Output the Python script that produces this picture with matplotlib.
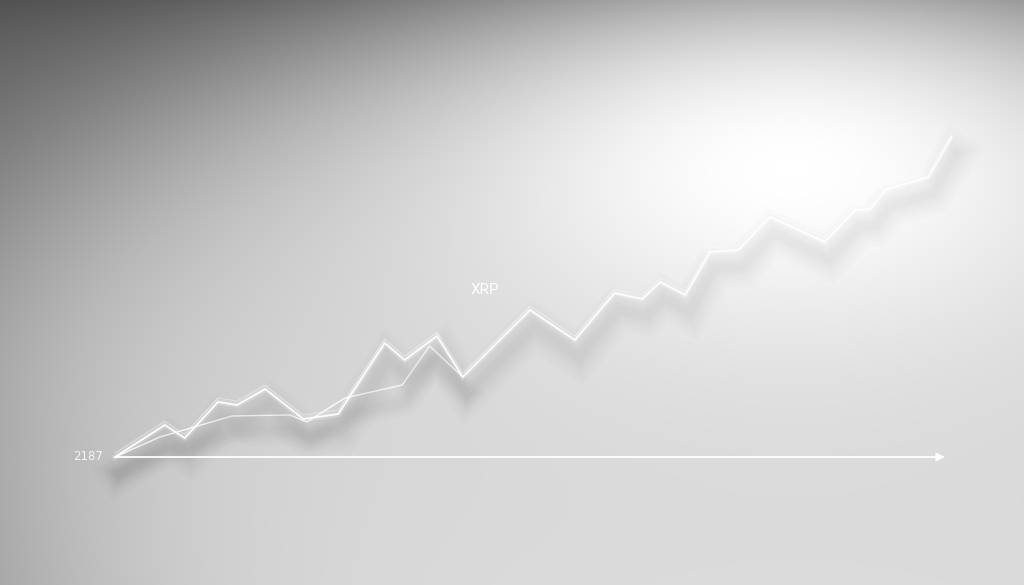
import numpy as np
import matplotlib
matplotlib.use("Agg")
import matplotlib.pyplot as plt
import matplotlib.patheffects as pe

# ---- data ----
main_days = [0, 6.0, 8.4, 12.4, 14.7, 18.1, 22.7, 26.9, 32.5, 34.9, 38.8, 41.9,
             50.0, 55.4, 60.2, 63.5, 65.7, 68.7, 71.7, 75.1, 78.9, 85.5, 89.2,
             91.0, 92.8, 98.0, 100.8]
main_price = [2187, 2283, 2244, 2352, 2343, 2391, 2301, 2316, 2529, 2478, 2550, 2427,
              2628, 2538, 2679, 2661, 2712, 2673, 2802, 2808, 2907, 2832, 2928,
              2931, 2988, 3027, 3147]
alt_days = [0, 5.4, 14.1, 21.1, 23.1, 27.7, 34.6, 37.9, 41.9]
alt_price = [2187, 2247, 2310, 2313, 2292, 2364, 2403, 2520, 2427]
base_value = 2187
base_label = "2187"
title_text = "XRP"
axis_end_day = 100

W, H = 1024, 585
fig = plt.figure(figsize=(W / 100, H / 100), dpi=100)

# ---- background lighting ----
bg = fig.add_axes([0, 0, 1, 1])
Y, X = np.mgrid[0:H, 0:W].astype(float)
by = np.where(Y < 400, 420.0, 800.0)
r = np.sqrt(((X - 800) / 850) ** 2 + ((Y - 400) / by) ** 2)
ell = 1 / (1 + np.exp(-(1 - r) / 0.13))
hot = np.exp(-((X - 790) / 330) ** 2 - ((Y - 130) / 200) ** 2)
B = 0.36 + 0.45 * ell + 0.20 * hot + 0.05 * (Y / H) - 0.07 * np.exp(-Y / 50)
B = np.clip(B, 0, 1)
bg.imshow(np.dstack([B, B, B]), extent=[0, 1, 0, 1], transform=bg.transAxes,
          aspect="auto", interpolation="bilinear")
bg.set_axis_off()

# ---- chart axes ----
ax = fig.add_axes([0, 0, 1, 1], facecolor="none")
px_per_day = 8.3
ax.set_xlim(-115 / px_per_day, (W - 115) / px_per_day)
ax.set_ylim(base_value - (H - 457) * 3, base_value + 457 * 3)
ax.set_axis_off()

shadow = [pe.SimpleLineShadow(offset=(3, -12), shadow_color="k", alpha=0.012, linewidth=w)
          for w in (30, 24, 19, 14, 10, 6)]

ax.plot(main_days, main_price, color="white", lw=1.2, solid_joinstyle="miter",
        path_effects=shadow + [pe.Stroke(linewidth=4, foreground="white", alpha=0.2), pe.Normal()],
        zorder=4)
ax.plot(main_days, [p + 12 for p in main_price], color="white", lw=0.7, alpha=0.5, zorder=3)
ax.plot(alt_days, alt_price, color="white", lw=1.0, alpha=0.95,
        path_effects=shadow[2:] + [pe.Normal()], zorder=3)

ax.annotate("", xy=(axis_end_day, base_value), xytext=(0, base_value),
            arrowprops=dict(arrowstyle="-|>", color="white", lw=1.3,
                            mutation_scale=12, shrinkA=0, shrinkB=0), zorder=5)

ax.text(-1.4, base_value, base_label, ha="right", va="center", fontsize=8.5,
        color="#f4f4f4", family="DejaVu Sans")
ax.text(44.6, 2688, title_text, ha="center", va="center", fontsize=11,
        color="white", family="Roboto")

fig.savefig("out.png", dpi=100)
